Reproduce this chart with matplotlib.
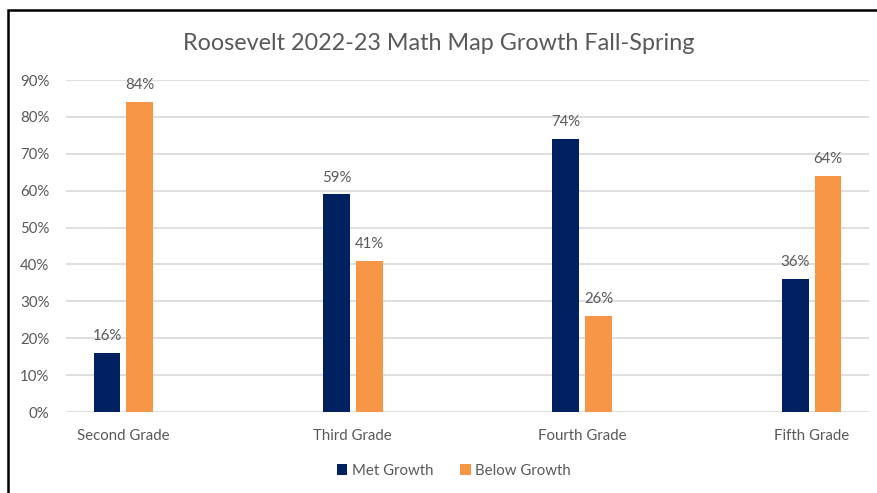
import numpy as np
import matplotlib.pyplot as plt
from matplotlib.patches import Rectangle
from matplotlib.ticker import PercentFormatter

plt.rcParams['font.family'] = ['Lato', 'DejaVu Sans']

grades = ["Second Grade", "Third Grade", "Fourth Grade", "Fifth Grade"]
met_growth = [16, 59, 74, 36]
below_growth = [84, 41, 26, 64]

navy = "#002060"
orange = "#F79646"
text_gray = "#595959"

fig = plt.figure(figsize=(8.78, 4.93), dpi=100)
ax = fig.add_axes([0.0752, 0.1643, 0.9145, 0.6734])

x = np.arange(len(grades))
w = 0.117
gap = 0.013
b1 = ax.bar(x - w / 2 - gap, met_growth, w, color=navy, label="Met Growth", zorder=3)
b2 = ax.bar(x + w / 2 + gap, below_growth, w, color=orange, label="Below Growth", zorder=3)

for bars in (b1, b2):
    for rect in bars:
        h = rect.get_height()
        ax.annotate(f"{h:.0f}%", (rect.get_x() + rect.get_width() / 2, h),
                    xytext=(0, 7), textcoords="offset points",
                    ha="center", va="bottom", fontsize=10.8, color=text_gray)

ax.set_xlim(-0.25, 3.25)
ax.set_ylim(0, 90)
ax.set_yticks(range(0, 91, 10))
ax.yaxis.set_major_formatter(PercentFormatter(decimals=0))
ax.set_xticks(x)
ax.set_xticklabels(grades)
ax.tick_params(axis="both", length=0, labelsize=10.8, labelcolor=text_gray)
ax.tick_params(axis="x", pad=12)
ax.tick_params(axis="y", pad=12)
ax.grid(axis="y", color="#D9D9D9", linewidth=1.2, zorder=0)
for s in ax.spines.values():
    s.set_visible(False)

fig.text(0.5, 0.912, "Roosevelt 2022-23 Math Map Growth Fall-Spring",
         ha="center", va="center", fontsize=16.8, color=text_gray)

fig.legend(handles=[b1, b2], loc="center", bbox_to_anchor=(0.517, 0.045),
           ncol=2, frameon=False, fontsize=10.8, labelcolor=text_gray,
           handlelength=0.7, handleheight=0.7, handletextpad=0.3, columnspacing=1.8)

# chart border
fig.patches.append(Rectangle((8 / 878, -0.1), 1.2, 0.1 + 1 - 10 / 493,
                             transform=fig.transFigure, fill=False,
                             edgecolor="black", linewidth=1.8))

fig.savefig("out.png", dpi=100)
